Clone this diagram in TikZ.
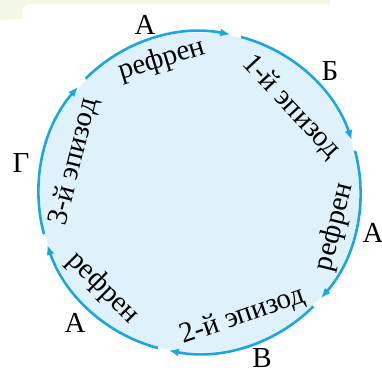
\documentclass[tikz,border=0pt]{standalone}
\usepackage{fontspec}
\setmainfont{Liberation Serif}
\usetikzlibrary{arrows.meta}

\definecolor{ringblue}{HTML}{1AA6E2}
\definecolor{ringfill}{HTML}{DFF1FB}
\definecolor{pagegreen}{HTML}{F3F8E6}

\begin{document}
\begin{tikzpicture}[x=1pt, y=1pt, font=\fontsize{29}{32}\selectfont,
  ring/.style={draw=ringblue, line width=2.6pt, -{Latex[length=10pt,width=8pt]}},
  part/.style={inner sep=0pt},
  letter/.style={inner sep=0pt}]
  \useasboundingbox (-199.5,-178.5) rectangle (182.5,192.5);
  % pale strip of the page
  \fill[pagegreen] (-199.5,192.5) -- (130,192.5) -- (130,188) -- (-172,188)
    to[out=180,in=90] (-177,182) -- (-177,174) -- (-199.5,172) -- cycle;
  % ring
  \fill[ringfill] (0,0) circle (160);
  \foreach \a [count=\i] in {135,75,15,-45,-105,-165}
    \coordinate (s\i) at (\a:161);
  \foreach \a [count=\i] in {135,75,15,-45,-105,-165}
    \draw[ring] (s\i) arc[start angle=\a, end angle=\a-56, radius=161];
  % parts along the ring
  \node[part, rotate=17]  (ref1) at (-37.5,132.5) {рефрен};
  \node[part, rotate=-47] (ep1)  at (91.5,85.5)   {1-й эпизод};
  \node[part, rotate=76]  (ref2) at (135.5,-34.5) {рефрен};
  \node[part, rotate=19]  (ep2)  at (43.5,-123.5) {2-й эпизод};
  \node[part, rotate=-45] (ref3) at (-96.5,-95.5) {рефрен};
  \node[part, rotate=76]  (ep3)  at (-125.5,30.5) {3-й эпизод};
  % letters outside
  \node[letter] (la1) at (-54.5,167.5)  {А};
  \node[letter] (lb)  at (130.5,121.5)  {Б};
  \node[letter] (la2) at (173.5,-40.5)  {А};
  \node[letter] (lv)  at (62.5,-165.5)  {В};
  \node[letter] (la3) at (-124.5,-130.5) {А};
  \node[letter] (lg)  at (-178.5,29.5)  {Г};
\end{tikzpicture}
\end{document}
